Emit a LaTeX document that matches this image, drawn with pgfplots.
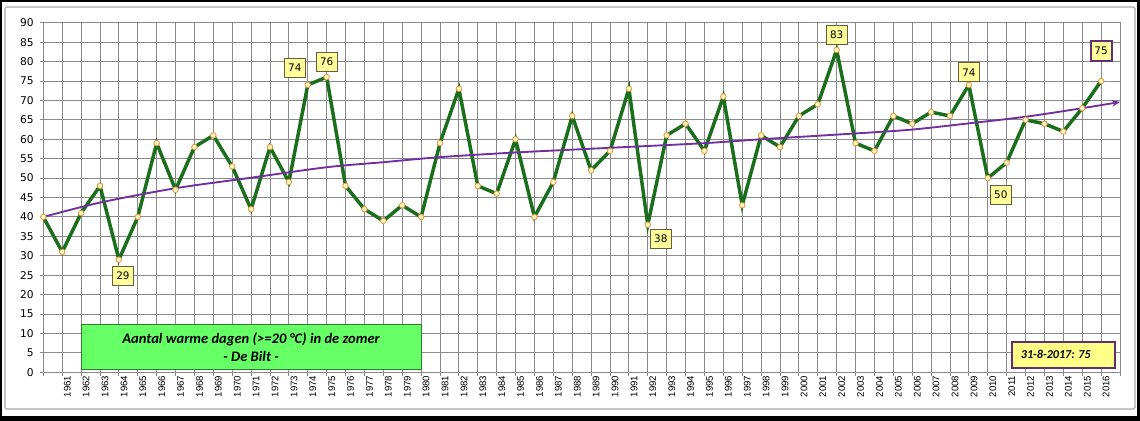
\documentclass[border=0pt]{standalone}
\usepackage{pgfplots}
\pgfplotsset{compat=1.18}
\usepackage{fontspec}
\setmainfont{Carlito}
\newfontfamily\dejavu{DejaVu Sans}
\newfontfamily\libsans{Liberation Sans}
\usetikzlibrary{arrows.meta}
\definecolor{gridgray}{HTML}{8A8A8A}
\definecolor{linegreen}{HTML}{1B6E1B}
\definecolor{trendpurple}{HTML}{7030A0}
\definecolor{mkedge}{HTML}{E09A3A}
\definecolor{mkfill}{HTML}{FFF4C8}
\definecolor{lblfill}{HTML}{FFFF99}
\definecolor{lbledge}{HTML}{6B5B3E}
\definecolor{boxgreen}{HTML}{66FF66}
\definecolor{boxgreenedge}{HTML}{2E7D2E}
\definecolor{datefill}{HTML}{FFFF88}
\definecolor{dateedge}{HTML}{603070}
\definecolor{framegray}{HTML}{A8A8A8}

\pgfplotstableread{
x y
0 40
1 31
2 41
3 48
4 29
5 40
6 59
7 47
8 58
9 61
10 53
11 42
12 58
13 49
14 74
15 76
16 48
17 42
18 39
19 43
20 40
21 59
22 73
23 48
24 46
25 60
26 40
27 49
28 66
29 52
30 57
31 73
32 38
33 61
34 64
35 57
36 71
37 43
38 61
39 58
40 66
41 69
42 83
43 59
44 57
45 66
46 64
47 67
48 66
49 74
50 50
51 54
52 65
53 64
54 62
55 68
56 75
}\datatable

\pgfplotstableread{
x y
0 40.0
3 43.7
7 47.4
11 50.1
15 52.8
18 54.1
21 55.4
25 56.6
30 57.8
35 59.0
38 60.0
43 61.5
46 62.5
49 64.1
52 65.8
55 68.0
57 69.6
}\trendtable

\tikzset{lbl/.style={draw=lbledge, line width=0.6pt, fill=lblfill, font=\dejavu\fontsize{7.8pt}{9pt}\selectfont, minimum width=15.75pt, minimum height=14.5pt, inner sep=1pt}}

\begin{document}
\begin{tikzpicture}
\path[use as bounding box] (0,0) rectangle (855pt,315.75pt);
\fill[black] (0,0) rectangle (855pt,315.75pt);
\fill[white] (1.5pt,3.75pt) rectangle (852.75pt,314.25pt);
\draw[framegray, line width=0.8pt, rounded corners=1pt] (3.75pt,9pt) rectangle (851.25pt,310.5pt);
\begin{axis}[
  at={(32.5pt,36.5pt)}, anchor=south west,
  scale only axis, width=807.5pt, height=262.2pt,
  xmin=0, xmax=57, ymin=0, ymax=90,
  clip=false,
  xtick={0,...,57},
  xticklabels={,1961,1962,1963,1964,1965,1966,1967,1968,1969,1970,1971,1972,1973,1974,1975,1976,1977,1978,1979,1980,1981,1982,1983,1984,1985,1986,1987,1988,1989,1990,1991,1992,1993,1994,1995,1996,1997,1998,1999,2000,2001,2002,2003,2004,2005,2006,2007,2008,2009,2010,2011,2012,2013,2014,2015,2016,},
  ytick={0,5,...,90},
  grid=major,
  major grid style={gridgray, line width=0.75pt},
  axis line style={gridgray, line width=0.75pt},
  tick style={gridgray, line width=0.75pt},
  tick align=outside, tick pos=left,
  major tick length=2.5pt,
  /pgf/number format/assume math mode=true,
  xticklabel style={rotate=90, anchor=east, font=\libsans\fontsize{7.2pt}{8pt}\selectfont, inner sep=0pt, yshift=-3.8pt},
  yticklabel style={anchor=east, font=\dejavu\fontsize{8pt}{9pt}\selectfont, inner sep=0pt, xshift=-4.5pt},
]
\addplot[linegreen, line width=2.6pt, mark=*, mark size=2.1pt, mark options={draw=mkedge, fill=mkfill, line width=0.6pt}] table[x=x,y=y] {\datatable};
\addplot[trendpurple, line width=1.4pt, smooth, -{Stealth[length=6pt,width=5pt]}] table[x=x,y=y] {\trendtable};

\node[lbl, xshift=3pt, yshift=-12pt] at (axis cs:4,29) {29};
\node[lbl, xshift=-9.75pt, yshift=12.75pt] at (axis cs:14,74) {74};
\node[lbl, yshift=11.6pt] at (axis cs:15,76) {76};
\node[lbl, xshift=9.75pt, yshift=-10.5pt] at (axis cs:32,38) {38};
\node[lbl, yshift=11.25pt] at (axis cs:42,83) {83};
\node[lbl, yshift=9.5pt] at (axis cs:49,74) {74};
\node[lbl, xshift=9.75pt, yshift=-12.75pt] at (axis cs:50,50) {50};
\node[lbl, draw=dateedge, line width=1.5pt, yshift=22.5pt] at (axis cs:56,75) {75};

\draw[boxgreenedge, fill=boxgreen, line width=0.75pt] (axis cs:2,0.6) rectangle (axis cs:20,12.4);
\node[align=center, font=\fontsize{10.9pt}{14pt}\selectfont\bfseries\itshape] at (axis cs:11,6.5) {Aantal warme dagen (>=20 °C) in de zomer\\- De Bilt -};

\draw[dateedge, fill=datefill, line width=1.5pt] (axis cs:51.27,1.18) rectangle (axis cs:56.73,7.88);
\node[font=\fontsize{9.1pt}{10pt}\selectfont\bfseries\itshape] at (axis cs:53.6,4.5) {31-8-2017: 75};
\end{axis}
\end{tikzpicture}
\end{document}
